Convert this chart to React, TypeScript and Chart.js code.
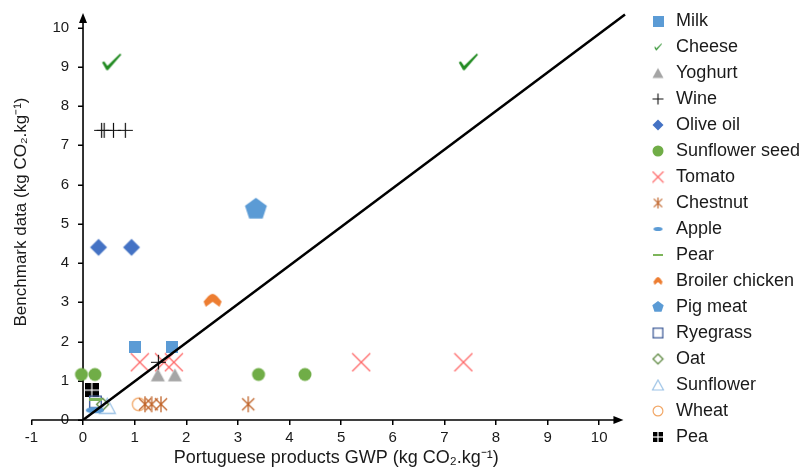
import React, { useEffect, useRef } from 'react';
import { Chart, registerables } from 'chart.js';

Chart.register(...registerables);

const FONT = "'Liberation Sans', Arial, Helvetica, sans-serif";
const TEXT = '#1a1a1a';

// ---- data ----
const seriesNames = [
  'Milk', 'Cheese', 'Yoghurt', 'Wine', 'Olive oil', 'Sunflower seed', 'Tomato', 'Chestnut',
  'Apple', 'Pear', 'Broiler chicken', 'Pig meat', 'Ryegrass', 'Oat', 'Sunflower', 'Wheat', 'Pea',
];

const milkX = [1.0, 1.73];
const milkY = [1.87, 1.87];
const cheeseX = [0.55, 7.46];
const cheeseY = [9.12, 9.12];
const yoghurtX = [1.45, 1.78];
const yoghurtY = [1.15, 1.15];
const wineX = [0.36, 0.41, 0.59, 0.82, 1.46];
const wineY = [7.38, 7.38, 7.38, 7.38, 1.47];
const oliveX = [0.3, 0.94];
const oliveY = [4.4, 4.4];
const sunSeedX = [-0.03, 0.23, 3.4, 4.3];
const sunSeedY = [1.16, 1.16, 1.16, 1.16];
const tomatoX = [1.1, 1.57, 1.76, 5.39, 7.37];
const tomatoY = [1.47, 1.47, 1.47, 1.47, 1.47];
const chestnutX = [1.2, 1.33, 1.51, 3.2];
const chestnutY = [0.4, 0.4, 0.4, 0.4];
const appleX = [0.18, 0.28];
const appleY = [0.25, 0.25];
const pearX = [0.24];
const pearY = [0.52];
const chickenX = [2.51];
const chickenY = [3.05];
const pigX = [3.35];
const pigY = [5.37];
const ryegrassX = [0.24];
const ryegrassY = [0.46];
const oatX = [0.38];
const oatY = [0.4];
const sunflowerX = [0.47];
const sunflowerY = [0.36];
const wheatX = [1.08];
const wheatY = [0.4];
const peaX = [0.17];
const peaY = [0.76];

const lineX = [0, 10.5];
const lineY = [0, 10.33];

const xTitle = 'Portuguese products GWP (kg CO\u2082.kg\u207B\u00B9)';
const yTitle = 'Benchmark data (kg CO\u2082.kg\u207B\u00B9)';

const allX = [milkX, cheeseX, yoghurtX, wineX, oliveX, sunSeedX, tomatoX, chestnutX, appleX, pearX,
  chickenX, pigX, ryegrassX, oatX, sunflowerX, wheatX, peaX];
const allY = [milkY, cheeseY, yoghurtY, wineY, oliveY, sunSeedY, tomatoY, chestnutY, appleY, pearY,
  chickenY, pigY, ryegrassY, oatY, sunflowerY, wheatY, peaY];

// ---- marker drawing ----
type Draw = (c: CanvasRenderingContext2D, w: number, h: number) => void;
function mk(w: number, h: number, draw: Draw): HTMLCanvasElement {
  const cv = document.createElement('canvas');
  cv.width = w;
  cv.height = h;
  const c = cv.getContext('2d')!;
  draw(c, w, h);
  return cv;
}
const square = (s: number, col: string) => mk(s, s, (c) => { c.fillStyle = col; c.fillRect(0, 0, s, s); });
const openSquare = (s: number, col: string, lw: number) => mk(s + 2, s + 2, (c) => {
  c.strokeStyle = col; c.lineWidth = lw; c.strokeRect(1 + lw / 2, 1 + lw / 2, s - lw, s - lw);
});
const check = (w: number, h: number, col: string) => mk(w + 2, h + 2, (c) => {
  c.fillStyle = col;
  c.beginPath();
  const p = [[0.03, 0.52], [0.14, 0.46], [0.3, 0.72], [0.93, 0.0], [1.0, 0.06], [0.33, 0.97], [0.25, 0.97]];
  p.forEach(([a, b], i) => { const X = 1 + a * w, Y = 1 + b * h; if (i) c.lineTo(X, Y); else c.moveTo(X, Y); });
  c.closePath();
  c.fill();
});
const triangle = (w: number, h: number, col: string, filled: boolean, lw = 1.2) => mk(w + 3, h + 3, (c) => {
  c.beginPath();
  c.moveTo(1.5 + w / 2, 1.5);
  c.lineTo(1.5 + w, 1.5 + h);
  c.lineTo(1.5, 1.5 + h);
  c.closePath();
  if (filled) { c.fillStyle = col; c.fill(); } else { c.strokeStyle = col; c.lineWidth = lw; c.stroke(); }
});
const plus = (s: number, col: string, lw: number) => mk(s + 2, s + 2, (c) => {
  c.strokeStyle = col; c.lineWidth = lw;
  c.beginPath();
  c.moveTo(1, 1 + s / 2); c.lineTo(1 + s, 1 + s / 2);
  c.moveTo(1 + s / 2, 1); c.lineTo(1 + s / 2, 1 + s);
  c.stroke();
});
const diamond = (s: number, col: string, filled: boolean, lw = 1.3) => mk(s + 3, s + 3, (c) => {
  const m = 1.5 + s / 2;
  c.beginPath();
  c.moveTo(m, 1.5); c.lineTo(1.5 + s, m); c.lineTo(m, 1.5 + s); c.lineTo(1.5, m); c.closePath();
  if (filled) { c.fillStyle = col; c.fill(); } else { c.strokeStyle = col; c.lineWidth = lw; c.stroke(); }
});
const circle = (d: number, col: string, filled: boolean, lw = 1.3) => mk(d + 3, d + 3, (c) => {
  c.beginPath();
  c.arc(1.5 + d / 2, 1.5 + d / 2, filled ? d / 2 : d / 2 - lw / 2, 0, Math.PI * 2);
  if (filled) { c.fillStyle = col; c.fill(); } else { c.strokeStyle = col; c.lineWidth = lw; c.stroke(); }
});
const cross = (s: number, col: string, lw: number) => mk(s + 2, s + 2, (c) => {
  c.strokeStyle = col; c.lineWidth = lw;
  c.beginPath();
  c.moveTo(1, 1); c.lineTo(1 + s, 1 + s);
  c.moveTo(1 + s, 1); c.lineTo(1, 1 + s);
  c.stroke();
});
const asterisk = (s: number, col: string, lw: number) => mk(s + 2, s + 2, (c) => {
  c.strokeStyle = col; c.lineWidth = lw;
  c.beginPath();
  c.moveTo(1 + s * 0.12, 1 + s * 0.12); c.lineTo(1 + s * 0.88, 1 + s * 0.88);
  c.moveTo(1 + s * 0.88, 1 + s * 0.12); c.lineTo(1 + s * 0.12, 1 + s * 0.88);
  c.moveTo(1 + s / 2, 1); c.lineTo(1 + s / 2, 1 + s);
  c.stroke();
});
const lens = (w: number, h: number, col: string) => mk(w + 2, h + 2, (c) => {
  c.fillStyle = col;
  c.beginPath();
  c.ellipse(1 + w / 2, 1 + h / 2, w / 2, h / 2, 0, 0, Math.PI * 2);
  c.fill();
});
const bar = (w: number, h: number, col: string) => mk(w, h, (c) => { c.fillStyle = col; c.fillRect(0, 0, w, h); });
const chicken = (w: number, h: number, col: string) => mk(w + 2, h + 2, (c) => {
  c.fillStyle = col;
  c.beginPath();
  c.moveTo(1 + w / 2, 1);
  c.quadraticCurveTo(1 + w * 0.62, 1, 1 + w * 0.75, 1 + h * 0.2);
  c.lineTo(1 + w, 1 + h * 0.6);
  c.lineTo(1 + w * 0.88, 1 + h);
  c.lineTo(1 + w / 2, 1 + h * 0.62);
  c.lineTo(1 + w * 0.12, 1 + h);
  c.lineTo(1, 1 + h * 0.6);
  c.lineTo(1 + w * 0.25, 1 + h * 0.2);
  c.quadraticCurveTo(1 + w * 0.38, 1, 1 + w / 2, 1);
  c.closePath();
  c.fill();
});
const pentagon = (r: number, col: string) => {
  const s = Math.ceil(2 * r + 2);
  return mk(s, s, (c) => {
    c.fillStyle = col;
    c.beginPath();
    for (let i = 0; i < 5; i++) {
      const a = -Math.PI / 2 + (i * 2 * Math.PI) / 5;
      const X = s / 2 + r * Math.cos(a), Y = s / 2 + r * Math.sin(a);
      if (i) c.lineTo(X, Y); else c.moveTo(X, Y);
    }
    c.closePath();
    c.fill();
  });
};
const pea = (s: number, col: string) => mk(s, s, (c) => {
  c.fillStyle = col;
  c.fillRect(0, 0, s, s);
  c.fillStyle = '#ffffff';
  c.fillRect(0, s / 2 - 0.6, s, 1.2);
  c.fillRect(s / 2 - 0.6, 0, 1.2, s);
});

const COL = {
  milk: '#5B9BD5', cheese: '#228B22', yog: '#A5A5A5', wine: '#111111', olive: '#4472C4',
  sunSeed: '#70AD47', tomato: '#FF6464', chestnut: '#C0652B', apple: '#5B9BD5', pear: '#7DB55A',
  chicken: '#ED7D31', pig: '#5B9BD5', rye: '#44609A', oat: '#548235', sunflower: '#9DC3E6',
  wheat: '#F2A868', pea: '#000000',
};

function chartMarkers(): HTMLCanvasElement[] {
  return [
    square(12, COL.milk),
    check(20, 17, COL.cheese),
    triangle(14, 13, COL.yog, true),
    plus(15, COL.wine, 1.2),
    diamond(17, COL.olive, true),
    circle(13, COL.sunSeed, true),
    cross(18, COL.tomato, 1.2),
    asterisk(16, COL.chestnut, 1.3),
    lens(13, 6, COL.apple),
    bar(13, 3, COL.pear),
    chicken(18, 13, COL.chicken),
    pentagon(11.5, COL.pig),
    openSquare(13, COL.rye, 1.4),
    diamond(12, COL.oat, false, 1.3),
    triangle(16, 15, COL.sunflower, false, 1.3),
    circle(14, COL.wheat, false, 1.3),
    pea(14, COL.pea),
  ];
}

function legendMarkers(): HTMLCanvasElement[] {
  return [
    square(11, COL.milk),
    check(8, 7, COL.cheese),
    triangle(11, 10, COL.yog, true),
    plus(11, COL.wine, 1.1),
    diamond(11, COL.olive, true),
    circle(11, COL.sunSeed, true),
    cross(11, COL.tomato, 1.1),
    asterisk(11, COL.chestnut, 1.2),
    lens(9, 4, COL.apple),
    bar(10, 2, COL.pear),
    chicken(9, 8, COL.chicken),
    pentagon(6, COL.pig),
    openSquare(11, COL.rye, 1.3),
    diamond(10, COL.oat, false, 1.2),
    triangle(11, 10, COL.sunflower, false, 1.2),
    circle(11, COL.wheat, false, 1.2),
    pea(10, COL.pea),
  ];
}

const axesPlugin = {
  id: 'axesArrows',
  beforeDatasetsDraw(chart: any) {
    const { ctx, scales } = chart;
    const x = scales.x, y = scales.y;
    const x0 = x.getPixelForValue(0), y0 = y.getPixelForValue(0);
    const xs = x.getPixelForValue(-1), xe = x.getPixelForValue(10.47);
    const ye = y.getPixelForValue(10.37);
    ctx.save();
    ctx.strokeStyle = '#000';
    ctx.fillStyle = '#000';
    ctx.lineWidth = 1.6;
    ctx.beginPath();
    ctx.moveTo(xs, y0); ctx.lineTo(xe - 6, y0);
    ctx.moveTo(x0, y0); ctx.lineTo(x0, ye + 6);
    ctx.stroke();
    // y tick marks at the y axis (x = 0)
    ctx.lineWidth = 1.5;
    ctx.beginPath();
    y.ticks.forEach((t: any) => {
      const py = Math.round(y.getPixelForValue(t.value)) + 0.25;
      ctx.moveTo(x0 - 5, py);
      ctx.lineTo(x0, py);
    });
    ctx.stroke();
    ctx.beginPath();
    ctx.moveTo(xe, y0); ctx.lineTo(xe - 10, y0 - 4); ctx.lineTo(xe - 10, y0 + 4); ctx.closePath();
    ctx.fill();
    ctx.beginPath();
    ctx.moveTo(x0, ye); ctx.lineTo(x0 - 4, ye + 10); ctx.lineTo(x0 + 4, ye + 10); ctx.closePath();
    ctx.fill();
    ctx.restore();
  },
};

export default function App() {
  const ref = useRef<HTMLCanvasElement | null>(null);

  useEffect(() => {
    if (!ref.current) return;
    const cm = chartMarkers();
    const lm = legendMarkers();

    const datasets: any[] = [
      {
        label: 'y = x',
        data: lineX.map((v, i) => ({ x: v, y: lineY[i] })),
        showLine: true,
        borderColor: '#000',
        borderWidth: 2.5,
        pointRadius: 0,
        fill: false,
      },
      ...seriesNames.map((name, i) => ({
        label: name,
        data: allX[i].map((v, j) => ({ x: v, y: allY[i][j] })),
        pointStyle: cm[i],
        pointRadius: 6,
        pointHoverRadius: 6,
        showLine: false,
      })),
    ];

    const tickFont = { family: FONT, size: 15 };
    const titleFont = { family: FONT, size: 17 };

    const chart = new Chart(ref.current, {
      type: 'scatter',
      data: { datasets },
      plugins: [axesPlugin],
      options: {
        responsive: false,
        animation: false,
        events: [],
        layout: { autoPadding: false, padding: { top: 4, left: 2, right: 0, bottom: 0 } },
        plugins: {
          tooltip: { enabled: false },
          title: { display: false },
          legend: {
            display: true,
            position: 'right',
            align: 'start',
            maxWidth: 160,
            labels: {
              usePointStyle: true,
              padding: 8,
              color: TEXT,
              font: { family: FONT, size: 18 },
              generateLabels: () =>
                seriesNames.map((name, i) => ({
                  text: name,
                  pointStyle: lm[i],
                  fillStyle: 'rgba(0,0,0,0)',
                  strokeStyle: 'rgba(0,0,0,0)',
                  lineWidth: 0,
                  hidden: false,
                  datasetIndex: i + 1,
                  fontColor: TEXT,
                })),
            },
          },
        },
        scales: {
          x: {
            type: 'linear',
            position: 'bottom',
            min: -1,
            max: 10.81,
            afterFit: (s: any) => { s.height = 50; },
            ticks: {
              stepSize: 1,
              includeBounds: false,
              padding: 4,
              maxRotation: 0,
              autoSkip: false,
              color: TEXT,
              font: tickFont,
            },
            grid: {
              display: true,
              drawOnChartArea: false,
              drawTicks: true,
              tickLength: 5,
              color: '#000',
              lineWidth: 1.5,
            },
            border: { display: false },
            title: {
              display: true,
              text: xTitle,
              color: TEXT,
              font: { family: FONT, size: 18 },
              padding: { top: 2, bottom: 1 },
            },
          },
          y: {
            type: 'linear',
            axis: 'y',
            position: { x: -0.27 },
            min: 0,
            max: 10.6,
            afterFit: (s: any) => { s.paddingTop = 0; s.paddingBottom = 0; },
            ticks: {
              stepSize: 1,
              includeBounds: false,
              padding: 0,
              color: TEXT,
              font: tickFont,
            },
            grid: { display: false, drawOnChartArea: false },
            border: { display: false },
          },
          yt: {
            type: 'linear',
            axis: 'y',
            position: 'left',
            min: 0,
            max: 1,
            ticks: { display: false },
            grid: { display: false, drawTicks: false, drawOnChartArea: false },
            border: { display: false },
            title: {
              display: true,
              text: yTitle,
              color: TEXT,
              font: titleFont,
              padding: { top: 9, bottom: 0 },
            },
          },
        },
      } as any,
    });
    return () => chart.destroy();
  }, []);

  return (
    <div
      style={{
        position: 'fixed',
        left: 0,
        top: 0,
        width: 800,
        height: 470,
        overflow: 'hidden',
        background: '#ffffff',
      }}
    >
      <canvas ref={ref} width={801} height={470} style={{ display: 'block', width: 801, height: 470 }} />
    </div>
  );
}
